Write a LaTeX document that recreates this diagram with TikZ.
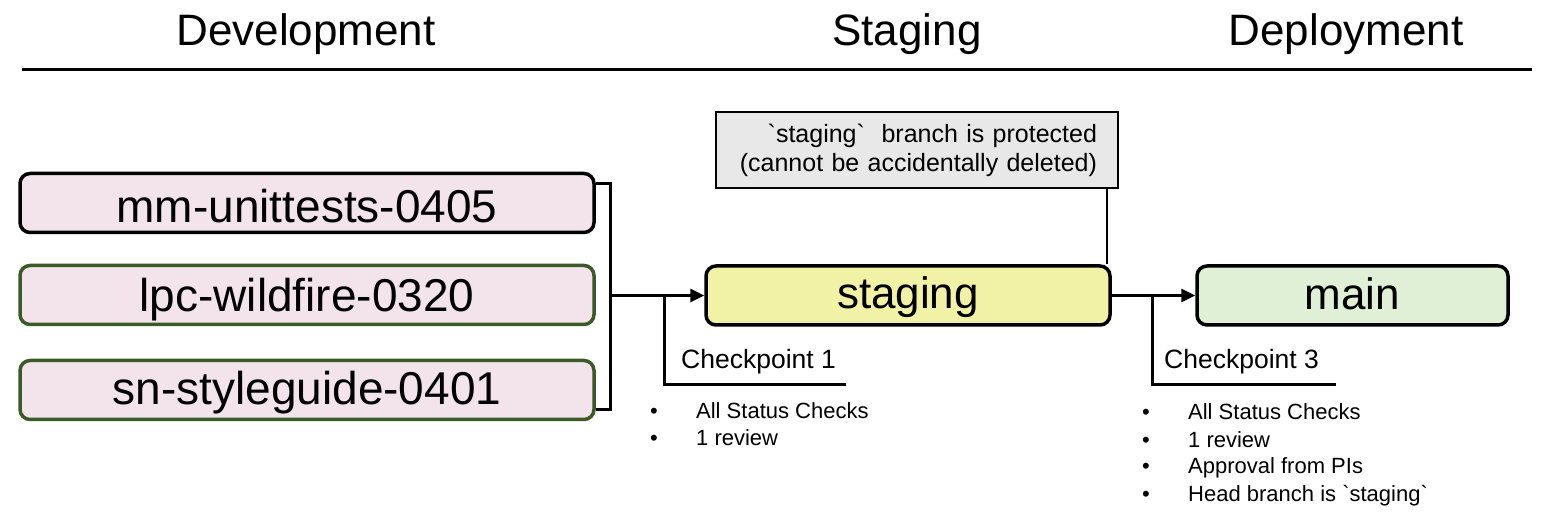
\documentclass[tikz,border=0pt]{standalone}
\usepackage{fontspec}
\setmainfont{Liberation Sans}[Ligatures=TeXOff]
\usetikzlibrary{arrows.meta}
\definecolor{pinkfill}{HTML}{F2E4EA}
\definecolor{greenedge}{HTML}{3B5A27}
\definecolor{yellowfill}{HTML}{F1F2A6}
\definecolor{mainfill}{HTML}{DFF0D7}
\definecolor{grayfill}{HTML}{E8E8E8}
\tikzset{
  branch/.style={draw=black, line width=3.5pt, rounded corners=10pt, minimum height=59pt, inner sep=0pt, text depth=0pt},
  bigtxt/.style={font=\fontsize{46}{50}\selectfont},
  midtxt/.style={font=\fontsize{44}{48}\selectfont},
  title/.style={font=\fontsize{44}{48}\selectfont, anchor=base},
  conn/.style={line width=3pt},
  arr/.style={conn, -{Triangle[length=14pt,width=13pt]}},
  cp/.style={font=\fontsize{26.5}{30}\selectfont, anchor=base west, inner sep=0pt},
  bul/.style={font=\fontsize{22}{24}\selectfont, anchor=base west, inner sep=0pt},
}
\newcommand{\bl}{\makebox[46pt][l]{\textbullet}}
\begin{document}
\begin{tikzpicture}[x=1pt,y=-1pt]
\useasboundingbox (0,0) rectangle (1548,518);
% titles
\node[title] (t1) at (306,46) {Development};
\node[title] (t2) at (907,46) {Staging};
\node[title] (t3) at (1346,46) {Deployment};
\coordinate (rl) at (22,70);
\coordinate (rr) at (1532,70);
\draw[line width=3pt] (rl) -- (rr);
% branch boxes
\node[branch, bigtxt, fill=pinkfill, minimum width=574pt, text height=40pt] (b1) at (307,203) {mm-unittests-0405};
\node[branch, bigtxt, fill=pinkfill, draw=greenedge, minimum width=574pt, text height=33pt] (b2) at (307,295) {lpc-wildfire-0320};
\node[branch, bigtxt, fill=pinkfill, draw=greenedge, minimum width=574pt, text height=30pt] (b3) at (307,390) {sn-styleguide-0401};
\node[branch, midtxt, fill=yellowfill, minimum width=404pt, text height=26pt] (st) at (908,295.5) {staging};
\node[branch, midtxt, fill=mainfill, minimum width=311pt, text height=28pt] (mn) at (1352.5,295.5) {main};
% protected note
\node[draw=black, line width=1.8pt, fill=grayfill, minimum width=402pt, minimum height=76pt, text width=360pt, align=right, font=\fontsize{25}{29}\selectfont, inner xsep=0pt, inner ysep=0pt] (note) at (917,150) {`staging`\ \ branch is protected\\(cannot be accidentally deleted)};
% bracket from development branches
\coordinate (bt) at (610,184);
\coordinate (bb) at (610,410);
\coordinate (bm) at (610,295.5);
\draw[conn] (b1.east |- bt) -- (bt) -- (bb) -- (b3.east |- bb);
\draw[arr] (bm) -- (st.west);
% checkpoint 1
\coordinate (c1t) at (664,295.5);
\coordinate (c1b) at (664,385);
\coordinate (c1e) at (846,385);
\draw[conn] (c1t) -- (c1b) -- (c1e);
\node[cp] (cp1) at (681,369) {Checkpoint 1};
\node[bul] (l11) at (650,419) {\bl All Status Checks};
\node[bul] (l12) at (650,446) {\bl 1 review};
% note connector
\coordinate (nx) at (1107,0);
\draw[line width=2pt] (note.south -| nx) -- (st.north -| nx);
% staging -> main
\draw[arr] (st.east) -- (mn.west);
\coordinate (c3t) at (1152,295.5);
\coordinate (c3b) at (1152,385);
\coordinate (c3e) at (1336,385);
\draw[conn] (c3t) -- (c3b) -- (c3e);
\node[cp] (cp3) at (1164,369) {Checkpoint 3};
\node[bul] (l31) at (1142,420) {\bl All Status Checks};
\node[bul] (l32) at (1142,447) {\bl 1 review};
\node[bul] (l33) at (1142,474) {\bl Approval from PIs};
\node[bul] (l34) at (1142,501) {\bl Head branch is `staging`};
\end{tikzpicture}
\end{document}
